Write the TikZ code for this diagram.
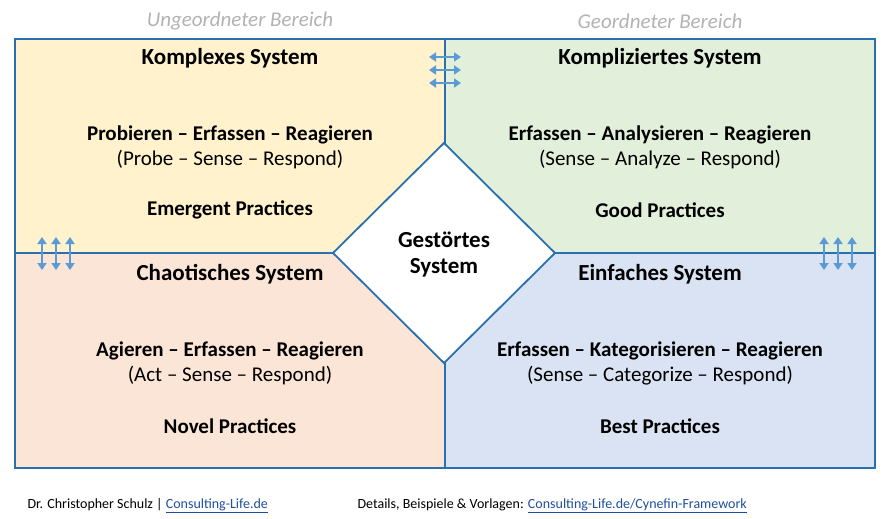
\documentclass[tikz,border=0pt]{standalone}
\usepackage{fontspec}
\setmainfont{Carlito}
\usetikzlibrary{arrows.meta}
\definecolor{bl}{HTML}{2A70AE}
\definecolor{ar}{HTML}{5B9BD5}
\definecolor{cy}{HTML}{FFF2CC}
\definecolor{cg}{HTML}{E2EFDA}
\definecolor{co}{HTML}{FBE5D6}
\definecolor{cb}{HTML}{DAE3F3}
\definecolor{lk}{HTML}{1F4E9E}
\begin{document}
\begin{tikzpicture}[x=1pt,y=-1pt,
 ttl/.style={font=\fontsize{23}{26}\selectfont\bfseries},
 sub/.style={font=\fontsize{21}{25}\selectfont,align=center},
 bsub/.style={font=\fontsize{21}{25}\selectfont\bfseries},
 hd/.style={font=\fontsize{21}{25}\selectfont\itshape,text=black!30},
 ft/.style={font=\fontsize{14}{17}\selectfont,anchor=west},
 twoway/.style={{Stealth[length=7pt,width=9pt,inset=0pt,fill=ar]}-{Stealth[length=7pt,width=9pt,inset=0pt,fill=ar]},color=ar,line width=2.5pt}]
\useasboundingbox (0,0) rectangle (891,519);
\fill[cy] (15,39) rectangle (445,253);
\fill[cg] (445,39) rectangle (875,253);
\fill[co] (15,253) rectangle (445,468);
\fill[cb] (445,253) rectangle (875,468);
\draw[bl,line width=1.8pt] (15,39) rectangle (875,468);
\draw[bl,line width=1.8pt] (445,39) -- (445,468) (15,253) -- (875,253);
\fill[white,draw=bl,line width=1.8pt] (444,143) -- (555,253) -- (444,363) -- (333,253) -- cycle;
\node[ttl,align=center] (g) at (444,255) {Gestörtes\\System};
\node[hd] (h1) at (240,21) {Ungeordneter Bereich};
\node[hd] (h2) at (660,21) {Geordneter Bereich};
\node[ttl] (t1) at (230,58) {Komplexes System};
\node[ttl] (t2) at (660,58) {Kompliziertes System};
\node[ttl] (t3) at (230,274) {Chaotisches System};
\node[ttl] (t4) at (660,274) {Einfaches System};
\node[sub] (s1) at (230,147) {\textbf{Probieren – Erfassen – Reagieren}\\(Probe – Sense – Respond)};
\node[sub] (s2) at (660,147) {\textbf{Erfassen – Analysieren – Reagieren}\\(Sense – Analyze – Respond)};
\node[sub] (s3) at (230,363) {\textbf{Agieren – Erfassen – Reagieren}\\(Act – Sense – Respond)};
\node[sub] (s4) at (660,363) {\textbf{Erfassen – Kategorisieren – Reagieren}\\(Sense – Categorize – Respond)};
\node[bsub] (p1) at (230,210) {Emergent Practices};
\node[bsub] (p2) at (660,210) {Good Practices};
\node[bsub] (p3) at (230,426) {Novel Practices};
\node[bsub] (p4) at (660,426) {Best Practices};
\foreach \y in {57,70,83} \draw[twoway] (429,\y) -- (461,\y);
\foreach \x in {42,56,70,824,838,852} \draw[twoway] (\x,237) -- (\x,270);
\node[ft] (f1) at (24,506) {Dr. Christopher Schulz | \textcolor{lk}{\underline{Consulting-Life.de}}};
\node[ft] (f2) at (354,506) {Details, Beispiele \& Vorlagen: \textcolor{lk}{\underline{Consulting-Life.de/Cynefin-Framework}}};
\end{tikzpicture}
\end{document}
